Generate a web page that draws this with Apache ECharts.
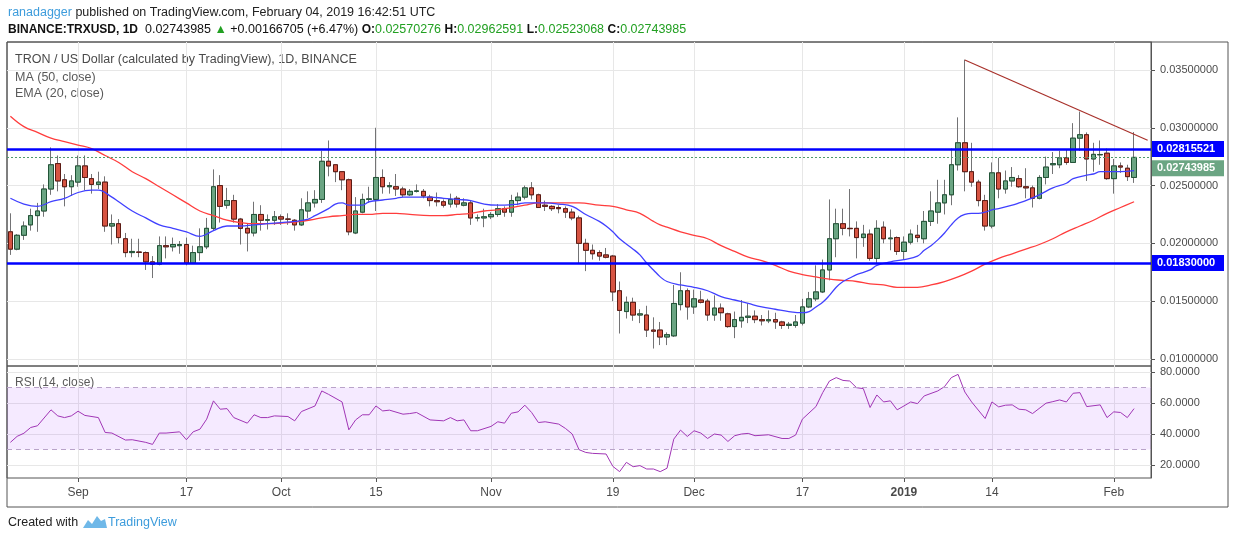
<!DOCTYPE html>
<html lang="en">
<head>
<meta charset="UTF-8">
<title>TRON / US Dollar</title>
<script src="https://cdn.jsdelivr.net/npm/echarts/dist/echarts.min.js"></script>
<style>
    html, body { margin: 0; padding: 0; background: #fff; }
    #main { width: 1234px; height: 541px; }
</style>
</head>
<body>
<div id="main"></div>
<script>
    // daily candles from 2018-08-22, rows are [open, close, low, high]
    var candles = [
        [0.0210,0.0195,0.0190,0.0226],[0.0195,0.0207,0.0194,0.0208],[0.0207,0.0215,0.0203,0.0219],[0.0216,0.0224,0.0211,0.0230],
        [0.0224,0.0228,0.0210,0.0235],[0.0228,0.0247,0.0223,0.0251],[0.0247,0.0268,0.0242,0.0283],[0.0269,0.0254,0.0245,0.0276],
        [0.0255,0.0249,0.0232,0.0260],[0.0249,0.0254,0.0241,0.0259],[0.0253,0.0267,0.0249,0.0276],[0.0267,0.0257,0.0246,0.0276],
        [0.0256,0.0251,0.0243,0.0260],[0.0251,0.0253,0.0247,0.0262],[0.0253,0.0215,0.0210,0.0258],[0.0215,0.0217,0.0199,0.0225],
        [0.0217,0.0205,0.0200,0.0221],[0.0204,0.0192,0.0188,0.0209],[0.0192,0.0193,0.0188,0.0204],[0.01925,0.01922,0.0188,0.0204],
        [0.0192,0.0184,0.0177,0.0193],[0.0184,0.0182,0.0170,0.0189],[0.0182,0.0198,0.0181,0.0206],[0.0198,0.0197,0.0187,0.0206],
        [0.0197,0.0199,0.0193,0.0205],[0.0198,0.0199,0.0191,0.0202],[0.0199,0.0183,0.0181,0.0205],[0.0183,0.0192,0.01825,0.0198],
        [0.0192,0.0197,0.0185,0.0213],[0.0197,0.0213,0.0195,0.0222],[0.0213,0.0249,0.0211,0.0264],[0.0250,0.0232,0.0218,0.0259],
        [0.0233,0.0237,0.0230,0.0248],[0.0237,0.0221,0.0218,0.0242],[0.0221,0.0213,0.0199,0.0222],[0.0213,0.0209,0.0193,0.0217],
        [0.0209,0.0225,0.0206,0.0236],[0.0225,0.0220,0.0211,0.0233],[0.0220,0.02205,0.0212,0.0225],[0.0220,0.0223,0.0216,0.0228],
        [0.0223,0.0221,0.0216,0.0225],[0.0221,0.02209,0.0216,0.0226],[0.0220,0.0216,0.0211,0.0221],[0.0216,0.0229,0.0215,0.0239],
        [0.0228,0.0235,0.0222,0.0245],[0.0235,0.0238,0.0231,0.0246],[0.0238,0.0271,0.0235,0.0280],[0.0271,0.0267,0.0258,0.0289],
        [0.0268,0.0262,0.0253,0.0268],[0.0262,0.0255,0.0246,0.0262],[0.0255,0.0210,0.0207,0.0256],[0.0209,0.0228,0.0208,0.0240],
        [0.0227,0.0238,0.0226,0.0243],[0.0238,0.02385,0.0235,0.0249],[0.0238,0.0257,0.0228,0.0300],[0.0257,0.0249,0.0243,0.0264],
        [0.0249,0.0250,0.0243,0.0253],[0.0249,0.0247,0.0241,0.0260],[0.0247,0.0242,0.0240,0.0249],[0.0242,0.0245,0.0241,0.0247],
        [0.0245,0.02454,0.0244,0.0251],[0.0245,0.0241,0.0239,0.0247],[0.0240,0.0237,0.0232,0.0242],[0.0237,0.0236,0.0232,0.0244],
        [0.0236,0.0233,0.0231,0.0238],[0.0234,0.0238,0.0231,0.0243],[0.0239,0.0234,0.0231,0.0241],[0.0233,0.0235,0.0232,0.0239],
        [0.0235,0.0222,0.0216,0.0237],[0.0222,0.02221,0.0219,0.0225],[0.0222,0.0223,0.0214,0.0230],[0.0223,0.0225,0.0221,0.0227],
        [0.0225,0.0230,0.0223,0.0234],[0.0230,0.0227,0.0223,0.0232],[0.0227,0.0237,0.0223,0.0242],[0.0237,0.0240,0.0233,0.0244],
        [0.0240,0.0248,0.0238,0.0250],[0.0248,0.0242,0.0238,0.0253],[0.0242,0.0231,0.0231,0.0243],[0.0233,0.0232,0.0228,0.0237],
        [0.0232,0.0230,0.0228,0.0233],[0.0231,0.0230,0.0226,0.0233],[0.0230,0.0227,0.0222,0.0232],[0.0227,0.0222,0.0220,0.0230],
        [0.0222,0.0200,0.0183,0.0224],[0.0200,0.0194,0.0176,0.0204],[0.0194,0.0191,0.0186,0.0199],[0.0192,0.0189,0.0185,0.0194],
        [0.0190,0.0188,0.0187,0.0196],[0.0189,0.0158,0.0150,0.0190],[0.0159,0.0142,0.0122,0.0167],[0.0141,0.0149,0.0135,0.0154],
        [0.0149,0.0138,0.0133,0.0153],[0.0138,0.0139,0.0131,0.0143],[0.0138,0.0125,0.0119,0.0146],[0.0125,0.0124,0.0109,0.0136],
        [0.0125,0.0119,0.0112,0.0132],[0.0119,0.0121,0.0112,0.0123],[0.0120,0.0148,0.0119,0.0164],[0.0147,0.0159,0.0142,0.0175],
        [0.0159,0.0145,0.0134,0.0161],[0.0145,0.0152,0.0139,0.0160],[0.0151,0.0149,0.0148,0.0159],[0.0150,0.0138,0.0133,0.0152],
        [0.0138,0.0144,0.0133,0.0155],[0.0144,0.0140,0.0133,0.0148],[0.0139,0.0128,0.0127,0.0140],[0.0128,0.0134,0.0118,0.0141],
        [0.0133,0.0136,0.0127,0.0151],[0.0136,0.0137,0.0131,0.0148],[0.0137,0.0134,0.0131,0.0142],[0.0134,0.0133,0.0129,0.0138],
        [0.0133,0.0134,0.0131,0.0142],[0.0134,0.0132,0.0126,0.0140],[0.0132,0.0129,0.0126,0.0133],[0.0129,0.0130,0.0126,0.0132],
        [0.0129,0.0132,0.0127,0.0138],[0.0131,0.0145,0.0129,0.0152],[0.0145,0.0152,0.0144,0.0158],[0.0152,0.0158,0.0150,0.0181],
        [0.0158,0.0177,0.0157,0.0186],[0.0177,0.0204,0.0168,0.0238],[0.0204,0.0217,0.0188,0.0230],[0.0217,0.0213,0.0207,0.0230],
        [0.0213,0.02127,0.0206,0.0247],[0.0213,0.0205,0.0187,0.0219],[0.0205,0.0208,0.0197,0.0216],[0.0208,0.0187,0.0185,0.0212],
        [0.0187,0.0213,0.0183,0.0220],[0.0214,0.0204,0.0200,0.0219],[0.0204,0.02046,0.0194,0.0212],[0.0205,0.0193,0.0190,0.0206],
        [0.0193,0.0201,0.0186,0.0206],[0.0201,0.0208,0.0199,0.0212],[0.0207,0.0205,0.0201,0.0216],[0.0204,0.0219,0.0200,0.0228],
        [0.0219,0.0228,0.0215,0.0245],[0.0227,0.0235,0.0217,0.0255],[0.0235,0.0242,0.0225,0.0255],[0.0242,0.0268,0.0233,0.0282],
        [0.0268,0.0287,0.0263,0.0309],[0.0287,0.0262,0.0245,0.0359],[0.0262,0.0253,0.0249,0.0287],[0.0253,0.0237,0.0232,0.0255],
        [0.0237,0.0215,0.0211,0.0242],[0.0215,0.0261,0.0213,0.0270],[0.0261,0.0247,0.0239,0.0274],[0.0247,0.0254,0.0243,0.0263],
        [0.0254,0.0257,0.0249,0.0266],[0.0256,0.0249,0.0248,0.0259],[0.0249,0.0248,0.0239,0.0265],[0.0248,0.0239,0.0231,0.0250],
        [0.0239,0.0257,0.0238,0.0259],[0.0257,0.0266,0.0251,0.0275],[0.0268,0.0269,0.0260,0.0279],[0.0268,0.0274,0.0265,0.0280],
        [0.0274,0.0270,0.0268,0.0281],[0.0270,0.0291,0.0270,0.0304],[0.0291,0.0294,0.0280,0.0314],[0.0294,0.0273,0.0254,0.0296],
        [0.0273,0.0277,0.0262,0.0287],[0.02766,0.02769,0.0268,0.0289],[0.0278,0.0256,0.0255,0.0282],[0.0256,0.0267,0.0243,0.0273],
        [0.0267,0.0266,0.0261,0.0270],[0.0265,0.0257728,0.0254,0.0268],[0.02570276,0.02743985,0.02523068,0.02962591]
    ];

    // indicator readings as [day index, value]
    var ma50 = [
        [0,0.0310],[2,0.0301],[4,0.0296],[6,0.0291],[8,0.0288],[10,0.0285],[12,0.0282],[14,0.0276],[16,0.0270],[18,0.0262],
        [20,0.0256],[22,0.0249],[24,0.0242],[26,0.0235],[28,0.0228],[30,0.0224],[32,0.0220],[34,0.0218],[36,0.0217],[38,0.0217],
        [41,0.0218],[43,0.0219],[45,0.0221],[47,0.0223],[49,0.0224],[51,0.0225],[53,0.0225],[55,0.0226],[57,0.0226],[59,0.0225],
        [62,0.0224],[64,0.0224],[66,0.0225],[68,0.0226],[70,0.0228],[72,0.0229],[74,0.0231],[76,0.0233],[78,0.0235],[81,0.0235],
        [84,0.0235],[87,0.0233],[89,0.0232],[91,0.0229],[93,0.0226],[95,0.0219],[96,0.0216],[97,0.0214],[99,0.0210],[101,0.0207],
        [103,0.0204],[105,0.0198],[107,0.0193],[109,0.0188],[111,0.0185],[113,0.0181],[115,0.0176],[117,0.0173],[119,0.0171],
        [121,0.0169],[123,0.0168],[125,0.0167],[127,0.0165],[129,0.0164],[131,0.0162],[133,0.0162],[134,0.0162],[136,0.0164],
        [138,0.0167],[140,0.0171],[142,0.0176],[144,0.0182],[146,0.0187],[148,0.0191],[150,0.0195],[152,0.0199],[154,0.0204],
        [156,0.0210],[158,0.0215],[160,0.0220],[162,0.0226],[164,0.0231],[166,0.0236]
    ];
    var ema20 = [
        [0,0.0239],[2,0.0234],[4,0.0232],[6,0.0236],[8,0.0239],[10,0.0244],[12,0.0246],[13,0.0246],[15,0.0240],[16,0.0236],
        [18,0.0228],[20,0.0222],[22,0.0216],[24,0.0213],[26,0.0210],[28,0.0206],[29,0.0208],[30,0.0211],[32,0.0215],[34,0.0215],
        [36,0.0216],[38,0.0217],[40,0.0218],[42,0.0219],[44,0.0221],[45,0.0224],[47,0.0230],[48,0.0234],[49,0.0235],[50,0.0233],
        [52,0.0233],[53,0.0236],[55,0.02375],[57,0.0239],[58,0.0240],[60,0.0240],[62,0.0240],[64,0.0239],[66,0.0238],[68,0.0237],
        [70,0.0234],[72,0.0233],[73,0.0233],[75,0.0234],[76,0.0235],[78,0.0235],[79,0.0235],[81,0.0234],[83,0.0232],[85,0.0225],
        [87,0.0219],[88,0.0215],[89,0.0210],[90,0.0204],[92,0.0195],[93,0.0190],[94,0.0183],[95,0.0177],[96,0.0171],[97,0.0167],
        [99,0.0164],[101,0.0162],[103,0.0159],[105,0.0154],[107,0.0151],[109,0.0148],[111,0.0145],[113,0.0143],[115,0.0141],
        [117,0.0140],[118,0.0141],[119,0.0145],[120,0.0149],[121,0.0155],[122,0.0162],[123,0.0167],[124,0.0170],[125,0.0173],
        [127,0.0177],[128,0.0181],[130,0.0184],[132,0.0186],[134,0.0189],[135,0.0194],[136,0.0198],[137,0.0203],[138,0.0209],
        [139,0.0216],[140,0.0222],[141,0.0225],[142,0.0226],[143,0.0226],[144,0.0227],[145,0.0229],[146,0.0230],[148,0.0233],
        [149,0.0235],[150,0.0237],[152,0.0242],[154,0.0248],[156,0.0252],[157,0.0256],[159,0.0259],[160,0.0260],[161,0.0262],
        [162,0.0262],[164,0.0262],[166,0.0263]
    ];
    var rsi14 = [
        [0,34.6],[1,38.5],[2,40.5],[3,44.2],[4,45.3],[6,55.6],[7,51.7],[8,50.6],[9,51.7],[10,54.7],[11,52],[13,50.6],[14,41],
        [15,40.6],[17,36.1],[18,36.3],[20,34.6],[21,33.3],[22,40.6],[23,40.6],[25,41.4],[26,36.3],[27,41.4],[28,43.1],[29,49.6],
        [30,61.4],[31,56],[32,56.4],[33,50.6],[35,47],[36,52.4],[37,50.6],[38,50.6],[39,51.7],[41,51.3],[42,48.5],[43,54.5],
        [45,58.1],[46,67.8],[47,65.6],[49,60.7],[50,42.7],[51,49.1],[52,52.4],[53,52.4],[54,58.1],[55,54.9],[56,55.4],[58,52.8],
        [59,53.2],[60,53.9],[62,49.1],[64,48.5],[65,50.6],[66,48.5],[67,49.1],[68,42.1],[69,42.1],[71,44.9],[72,47.9],[73,47],
        [74,53.4],[75,54.3],[76,58.6],[77,53.9],[78,47.4],[79,47.9],[81,46.4],[82,43.6],[83,40],[84,29.9],[85,28.1],[86,27.5],
        [88,27.1],[89,19.1],[90,15.7],[91,21.7],[92,18.9],[93,19.6],[94,17.4],[95,17.4],[96,15.7],[97,17.9],[98,36.7],[99,42.5],
        [100,38.4],[101,42.1],[102,40.6],[103,37.1],[104,40],[105,39.3],[106,35.2],[107,38.9],[108,40],[109,40.4],[110,38.9],
        [112,39.5],[114,37.1],[115,37.1],[116,39.3],[117,49.6],[119,57.7],[120,66.7],[121,74.2],[122,76.4],[123,74.6],[124,74.2],
        [125,69.9],[126,69.3],[127,57.1],[128,65.2],[129,60.7],[130,61.4],[131,55.6],[132,58.1],[133,60.7],[134,59.6],[135,64.6],
        [137,67.8],[138,70.6],[139,76.4],[140,78.5],[141,67.1],[142,60.7],[144,50],[145,60.7],[146,57.5],[147,58.6],[148,58.8],
        [149,56],[150,55.6],[151,53.2],[153,59.9],[154,60.9],[155,62],[156,60.7],[157,66.3],[158,66.7],[159,57.7],[161,58.8],
        [162,50.6],[163,54.3],[164,53.9],[165,50.6],[166,56.4]
    ];

    var trendLine = [[141,0.03586],[168,0.02892]];
    var levels = [0.02815521, 0.01830000];
    var priceTicks = [0.010, 0.015, 0.020, 0.025, 0.030, 0.035];
    var rsiTicks = [20, 40, 60, 80];
    var dateTicks = [
        ['2018-09-01','Sep'],['2018-09-17','17'],['2018-10-01','Oct'],['2018-10-15','15'],['2018-11-01','Nov'],
        ['2018-11-19','19'],['2018-12-01','Dec'],['2018-12-17','17'],['2019-01-01','2019'],['2019-01-14','14'],['2019-02-01','Feb']
    ];

    var FONT = "'Liberation Sans', Arial, sans-serif";
    var UP = '#6ba583', DOWN = '#d75442';

    // one category per day, two empty days after the last candle
    var dates = [];
    for (var i = 0; i < candles.length + 2; i++) {
        dates.push(new Date(Date.UTC(2018, 7, 22) + i * 86400000).toISOString().slice(0, 10));
    }
    var tickText = {};
    dateTicks.forEach(function (t) { tickText[t[0]] = t[1]; });
    function isTick(idx, val) { return tickText[val] !== undefined; }

    // bodies without wicks, drawn over the grey wicks
    var bodies = candles.map(function (c) {
        return [c[0], c[1], Math.min(c[0], c[1]), Math.max(c[0], c[1])];
    });
    var last = candles[candles.length - 1];
    var prevClose = candles[candles.length - 2][1];
    var lastClose = last[1];

    var chart = echarts.init(document.getElementById('main'), null, {renderer: 'canvas'});

    function catAxis(grid, showLabels) {
        return {
            type: 'category', gridIndex: grid, data: dates, boundaryGap: true,
            axisLine: {show: false},
            axisTick: {show: showLabels, interval: isTick, alignWithLabel: true, length: 4, lineStyle: {color: '#555'}},
            axisLabel: {
                show: showLabels, interval: isTick, margin: 9, color: '#4a4a4a', fontSize: 12, fontFamily: FONT,
                formatter: function (v) {
                    var t = tickText[v];
                    return t === '2019' ? '{b|2019}' : t;
                },
                rich: {b: {fontWeight: 'bold', fontSize: 12, color: '#4a4a4a', fontFamily: FONT}}
            },
            splitLine: {show: true, interval: isTick, alignWithLabel: true, lineStyle: {color: '#e7e7e7'}}
        };
    }

    var option = {
        animation: false,
        textStyle: {fontFamily: FONT},
        grid: [
            {left: 7, top: 42, width: 1144, height: 324, show: true, borderColor: '#555', borderWidth: 1},
            {left: 7, top: 366, width: 1144, height: 112, show: true, borderColor: '#555', borderWidth: 1}
        ],
        xAxis: [catAxis(0, false), catAxis(1, true)],
        yAxis: [
            {
                type: 'value', gridIndex: 0, position: 'right', min: 0.00939, max: 0.03742,
                axisLine: {show: true, lineStyle: {color: '#555'}},
                axisTick: {show: true, length: 4, customValues: priceTicks, lineStyle: {color: '#555'}},
                axisLabel: {customValues: priceTicks, margin: 9, color: '#4c4c4c', fontSize: 11, fontFamily: FONT,
                    formatter: function (v) { return v.toFixed(8); }},
                splitLine: {show: true, lineStyle: {color: '#e7e7e7'}}
            },
            {
                type: 'value', gridIndex: 1, position: 'right', min: 11.6, max: 83.9,
                axisLine: {show: true, lineStyle: {color: '#555'}},
                axisTick: {show: true, length: 4, customValues: rsiTicks, lineStyle: {color: '#555'}},
                axisLabel: {customValues: rsiTicks, margin: 9, color: '#4c4c4c', fontSize: 11, fontFamily: FONT,
                    formatter: function (v) { return v.toFixed(4); }},
                splitLine: {show: true, lineStyle: {color: '#e7e7e7'}}
            }
        ],
        series: [
            {
                name: 'wicks', type: 'candlestick', xAxisIndex: 0, yAxisIndex: 0, barWidth: 5,
                data: candles,
                itemStyle: {color: UP, color0: DOWN, borderColor: '#737375', borderColor0: '#737375', borderWidth: 1},
                markLine: {
                    silent: true, symbol: 'none', precision: 8, label: {show: false},
                    lineStyle: {color: '#4f9a6e', type: [2, 2], width: 1, opacity: 1},
                    data: [{yAxis: lastClose}]
                }
            },
            {
                name: 'TRXUSD', type: 'candlestick', xAxisIndex: 0, yAxisIndex: 0, barWidth: 5,
                data: bodies,
                itemStyle: {color: UP, color0: DOWN, borderColor: '#225437', borderColor0: '#5b1a13', borderWidth: 1}
            },
            {
                name: 'MA (50, close)', type: 'line', xAxisIndex: 0, yAxisIndex: 0, data: ma50,
                showSymbol: false, smooth: 0.4, lineStyle: {color: '#ff3d3d', width: 1.3}, z: 3
            },
            {
                name: 'EMA (20, close)', type: 'line', xAxisIndex: 0, yAxisIndex: 0, data: ema20,
                showSymbol: false, smooth: 0.4, lineStyle: {color: '#4040ff', width: 1.3}, z: 3,
                markLine: {
                    silent: true, symbol: 'none', precision: 8, label: {show: false},
                    lineStyle: {color: '#0000ff', width: 2.5, type: 'solid'},
                    data: levels.map(function (v) { return {yAxis: v}; })
                }
            },
            {
                name: 'trend', type: 'line', xAxisIndex: 0, yAxisIndex: 0, data: trendLine,
                showSymbol: false, lineStyle: {color: '#a8302a', width: 1.2}, z: 4
            },
            {
                name: 'RSI (14, close)', type: 'line', xAxisIndex: 1, yAxisIndex: 1, data: rsi14,
                showSymbol: false, lineStyle: {color: '#a035b5', width: 1}, z: 3,
                markArea: {silent: true, itemStyle: {color: 'rgba(160, 60, 255, 0.11)'}, data: [[{yAxis: 30}, {yAxis: 70}]]},
                markLine: {
                    silent: true, symbol: 'none', label: {show: false},
                    lineStyle: {color: '#b9a3c9', type: [5, 4], width: 1},
                    data: [{yAxis: 70}, {yAxis: 30}]
                }
            }
        ],
        graphic: [
            {type: 'text', left: 8, top: 6, style: {
                text: '{u|ranadagger} published on TradingView.com, February 04, 2019 16:42:51 UTC',
                fill: '#222', font: '12.5px ' + FONT,
                rich: {u: {fill: '#3d9cdc', font: '12.5px ' + FONT}}
            }},
            {type: 'text', left: 8, top: 23, style: {
                text: '{b|BINANCE:TRXUSD, 1D}  ' + lastClose.toFixed(8) + ' {g|▲} +' + (lastClose - prevClose).toFixed(8) +
                    ' (+6.47%) {b|O:}{v|' + last[0].toFixed(8) + '} {b|H:}{v|' + last[3].toFixed(8) +
                    '} {b|L:}{v|' + last[2].toFixed(8) + '} {b|C:}{v|' + lastClose.toFixed(8) + '}',
                fill: '#111', font: '12.5px ' + FONT,
                rich: {
                    b: {fontWeight: 'bold', fill: '#111', font: 'bold 12.5px ' + FONT},
                    g: {fill: '#22a022', font: '12.5px ' + FONT},
                    v: {fill: '#22a022', font: '12.5px ' + FONT}
                }
            }},
            {type: 'text', left: 15, top: 53, style: {text: 'TRON / US Dollar (calculated by TradingView), 1D, BINANCE', fill: '#4a4a4a', font: '12.5px ' + FONT}},
            {type: 'text', left: 15, top: 71, style: {text: 'MA (50, close)', fill: '#5a5a5a', font: '12.5px ' + FONT}},
            {type: 'text', left: 15, top: 87, style: {text: 'EMA (20, close)', fill: '#5a5a5a', font: '12.5px ' + FONT}},
            {type: 'text', left: 15, top: 377, style: {text: 'RSI (14, close)', fill: '#5a5a5a', font: '12px ' + FONT}},
            {type: 'rect', shape: {x: 7, y: 42, width: 1221, height: 465}, style: {fill: 'none', stroke: '#555', lineWidth: 1}, silent: true},
            {type: 'text', left: 8, top: 516, style: {text: 'Created with', fill: '#222', font: '12.5px ' + FONT}},
            {type: 'polygon', shape: {points: [[83,528],[88,520],[92,524],[97,516],[101,521],[105,519],[107,528]]},
                style: {fill: '#6fb8e8'}},
            {type: 'text', left: 108, top: 516, style: {text: 'TradingView', fill: '#3d9cdc', font: '12.5px ' + FONT}}
        ]
    };
    chart.setOption(option);

    // price tags on the right axis, placed through the y scale
    function tag(id, value, color, dy) {
        var y = chart.convertToPixel({yAxisIndex: 0}, value) + dy;
        return {
            id: id, type: 'group', x: 1151, y: y - 8,
            children: [
                {type: 'rect', shape: {x: 0, y: 0, width: 73, height: 16}, style: {fill: color}},
                {type: 'text', x: 6, y: 2, style: {text: value.toFixed(8), fill: '#fff', font: 'bold 11px ' + FONT}}
            ]
        };
    }
    var tags = [
        tag('lv0', levels[0], '#0000ff', 0),
        tag('last', lastClose, UP, 11),
        tag('lv1', levels[1], '#0000ff', 0)
    ];
    chart.setOption({graphic: option.graphic.concat(tags)});
</script>
</body>
</html>
